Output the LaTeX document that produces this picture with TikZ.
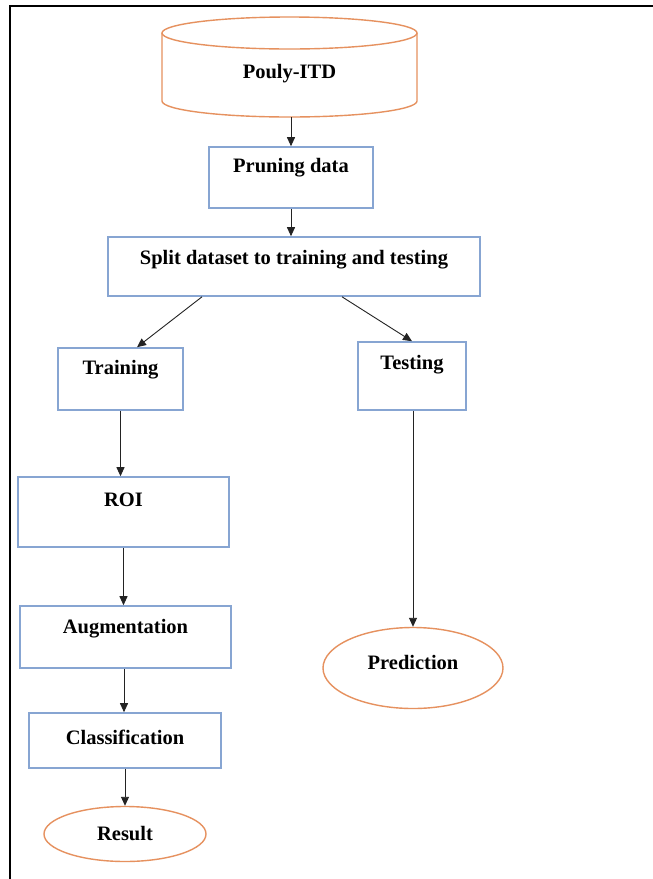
\documentclass[tikz,border=0pt]{standalone}
\usepackage{fontspec}
\setmainfont{Liberation Serif}
\usetikzlibrary{shapes.geometric,arrows.meta,calc}
\definecolor{boxblue}{RGB}{135,165,210}
\definecolor{orng}{RGB}{230,145,95}
\definecolor{arrowc}{RGB}{35,35,35}
\tikzset{
  stepbox/.style={draw=boxblue, line width=1.6pt, rectangle, inner sep=0pt},
  oval/.style={draw=orng, line width=1.4pt, ellipse, inner sep=0pt},
  lbl/.style={font=\fontsize{20.5}{24}\selectfont\bfseries, inner sep=0pt},
  conn/.style={draw=arrowc, line width=0.9pt, -{Triangle[width=8pt,length=9pt]}}
}
\begin{document}
\begin{tikzpicture}[x=1pt,y=-1pt]
\useasboundingbox (0,0) rectangle (653,879);
\fill[white] (0,0) rectangle (653,879);
% outer frame
\draw[black, line width=2.6pt] (10,879) -- (10,6) -- (653,6);

% database cylinder
\node[minimum width=255pt, minimum height=100pt, inner sep=0pt] (db) at (289.5,67) {};
\draw[orng, line width=1.4pt] (162,33) -- (162,101) arc[start angle=180, end angle=360, x radius=127.5pt, y radius=16pt] -- (417,33);
\draw[orng, line width=1.4pt] (289.5,33) ellipse[x radius=127.5pt, y radius=16pt];
\node[lbl] (dbt) at (289.5,74) {Pouly-ITD};

% boxes
\node[stepbox, minimum width=164pt, minimum height=61pt] (prune) at (291,177.5) {};
\node[lbl] at (291,168) {Pruning data};
\node[stepbox, minimum width=372pt, minimum height=59pt] (split) at (294,266.5) {};
\node[lbl] at (294,260) {Split dataset to training and testing};
\node[stepbox, minimum width=125pt, minimum height=62pt] (train) at (120.5,379) {};
\node[lbl] at (120.5,370) {Training};
\node[stepbox, minimum width=108pt, minimum height=68pt] (test) at (412,376) {};
\node[lbl] at (412,365) {Testing};
\node[stepbox, minimum width=211pt, minimum height=70pt] (roi) at (123.5,512) {};
\node[lbl] at (123.5,500) {ROI};
\node[stepbox, minimum width=211pt, minimum height=62pt] (aug) at (125.5,637) {};
\node[lbl] at (125.5,629) {Augmentation};
\node[stepbox, minimum width=192pt, minimum height=55pt] (cls) at (125,740.5) {};
\node[lbl] at (125,737) {Classification};
\node[oval, minimum width=162pt, minimum height=55pt] (res) at (125,834) {};
\node[lbl] at (125,834) {Result};
\node[oval, minimum width=180pt, minimum height=81pt] (pred) at (413,668) {};
\node[lbl] at (413,662) {Prediction};

% connectors
\draw[conn] (db.south -| prune.north) -- (prune.north);
\draw[conn] (prune.south) -- (prune.south |- split.north);
\draw[conn] ($(split.south)+(-92,0)$) -- ($(train.north)+(16.5,0)$);
\draw[conn] ($(split.south)+(48,0)$) -- (test.north);
\draw[conn] (train.south) -- (train.south |- roi.north);
\draw[conn] (roi.south) -- (roi.south |- aug.north);
\draw[conn] ($(aug.south)+(-1.5,0)$) -- ($(cls.north)+(-1,0)$);
\draw[conn] (cls.south) -- (res.north);
\draw[conn] ($(test.south)+(1,0)$) -- (pred.north);
\end{tikzpicture}
\end{document}
